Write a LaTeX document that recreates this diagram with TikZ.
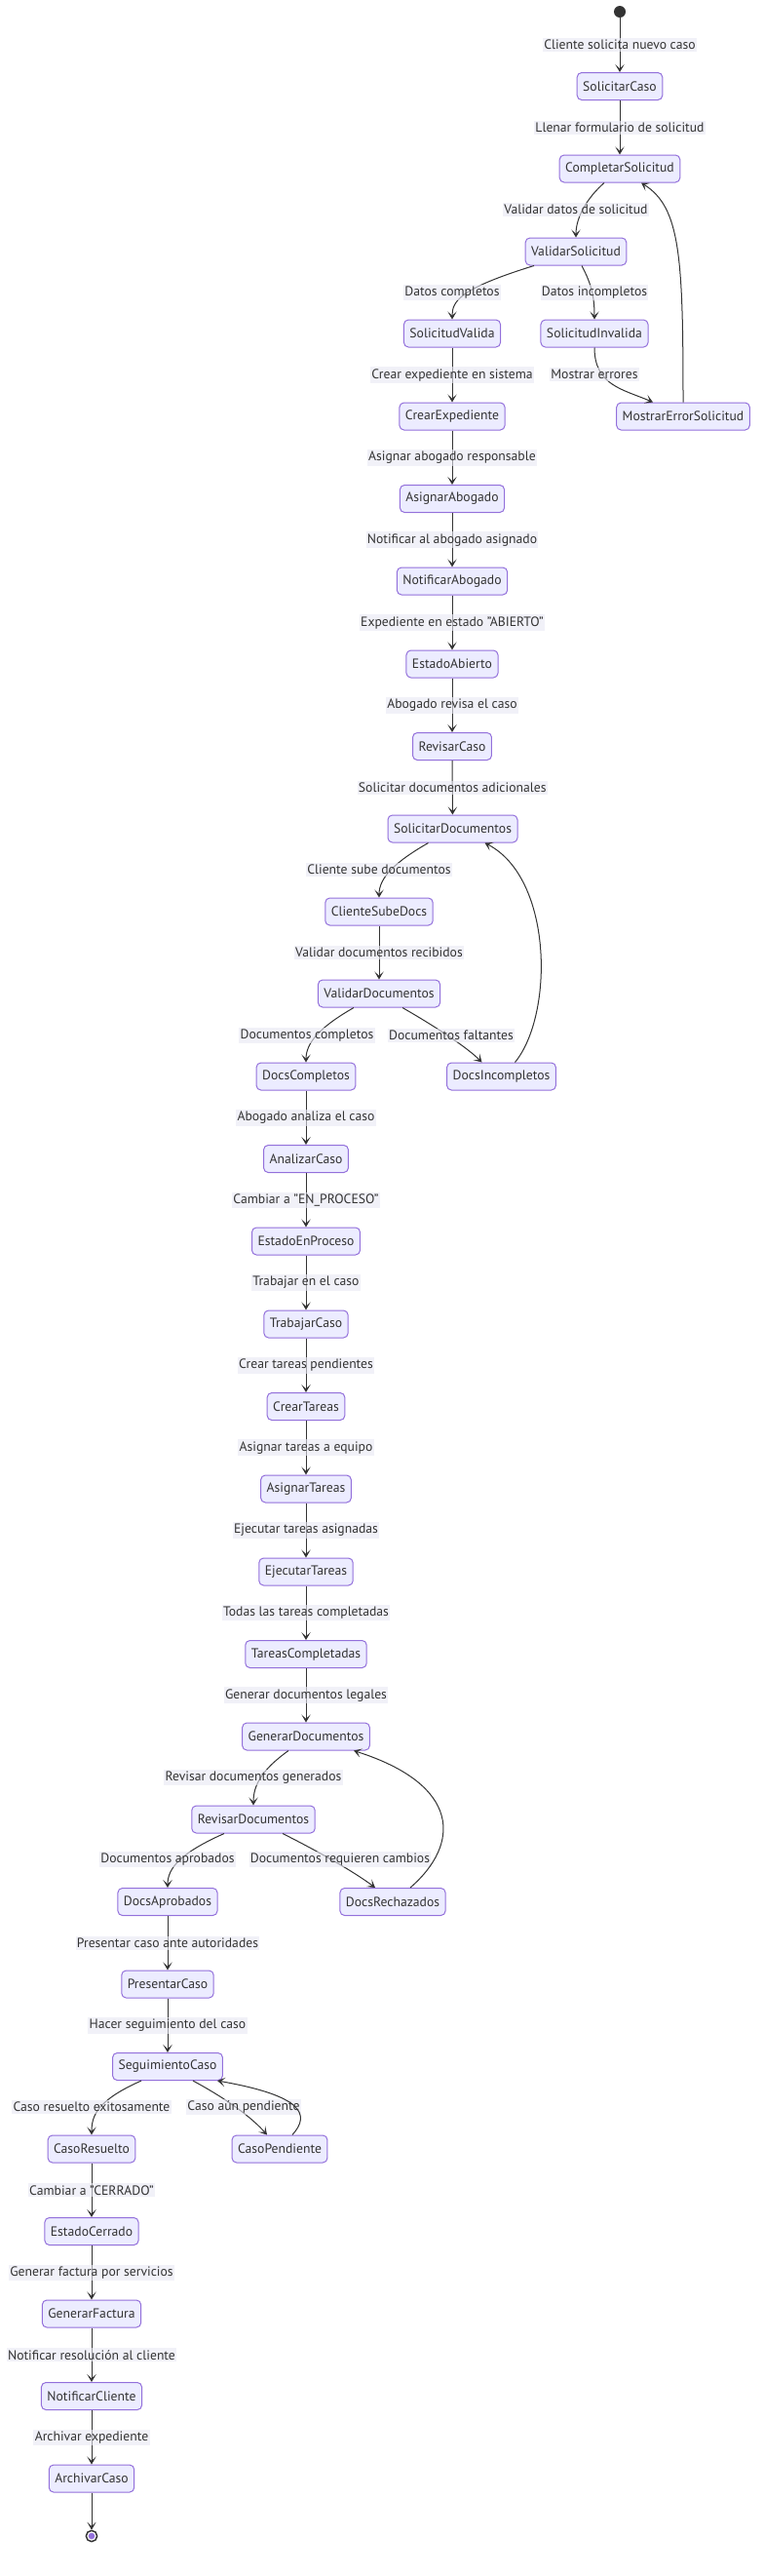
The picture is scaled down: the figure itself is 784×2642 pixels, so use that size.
\documentclass[tikz,border=0pt]{standalone}
\usepackage{fontspec}
\setmainfont{PT Sans}
\usetikzlibrary{arrows.meta,calc}

\definecolor{statefill}{HTML}{ECECFF}
\definecolor{stateborder}{HTML}{9370DB}
\definecolor{edgecol}{HTML}{333333}
\definecolor{txt}{HTML}{333333}
\definecolor{lblbg}{HTML}{E8E8F4}

\newcommand{\diagfont}{\fontsize{10.25}{12}\selectfont}

\tikzset{
  estado/.style={draw=stateborder, fill=statefill, rounded corners=3.5pt,
    line width=0.75pt, minimum height=21pt, inner xsep=4.5pt, inner ysep=0pt,
    text=txt, font=\diagfont},
  lbl/.style={fill=lblbg, fill opacity=0.6, text opacity=1, text=txt,
    inner xsep=1pt, inner ysep=1.5pt, font=\diagfont},
  tr/.style={draw=edgecol, line width=0.75pt,
    -{Stealth[length=6pt,width=7pt,inset=3.2pt]}},
}

\begin{document}
\begin{tikzpicture}[x=0.75pt,y=-0.75pt]
  \fill[white] (0,0) rectangle (784,2642);
  \useasboundingbox (0,0) rectangle (784,2642);

  \node[circle,fill=edgecol,minimum size=9pt,inner sep=0pt] (inicio) at (636,12) {};
  \node[estado] (solcaso) at (636,88.5) {SolicitarCaso};
  \node[estado] (compsol) at (636,173) {CompletarSolicitud};
  \node[estado] (valsol) at (591,258) {ValidarSolicitud};
  \node[estado] (solval) at (464,342) {SolicitudValida};
  \node[estado] (solinv) at (610,342) {SolicitudInvalida};
  \node[estado] (crearexp) at (464,427) {CrearExpediente};
  \node[estado] (mosterr) at (701,427) {MostrarErrorSolicitud};
  \node[estado] (asigabo) at (464,511.5) {AsignarAbogado};
  \node[estado] (notabo) at (464,596) {NotificarAbogado};
  \node[estado] (estabi) at (464,681) {EstadoAbierto};
  \node[estado] (revcaso) at (464,765.5) {RevisarCaso};
  \node[estado] (soldocs) at (464.5,850) {SolicitarDocumentos};
  \node[estado] (clisube) at (389,935) {ClienteSubeDocs};
  \node[estado] (valdocs) at (389,1019) {ValidarDocumentos};
  \node[estado] (docsok) at (314,1104) {DocsCompletos};
  \node[estado] (docsinc) at (514.5,1104) {DocsIncompletos};
  \node[estado] (analcaso) at (314,1188.5) {AnalizarCaso};
  \node[estado] (estproc) at (314,1273) {EstadoEnProceso};
  \node[estado] (trabcaso) at (314,1358) {TrabajarCaso};
  \node[estado] (creartar) at (314,1442.5) {CrearTareas};
  \node[estado] (asigtar) at (314,1527) {AsignarTareas};
  \node[estado] (ejectar) at (314,1612) {EjecutarTareas};
  \node[estado] (tarcomp) at (314,1696.5) {TareasCompletadas};
  \node[estado] (gendocs) at (314,1781) {GenerarDocumentos};
  \node[estado] (revdocs) at (260,1866) {RevisarDocumentos};
  \node[estado] (docsapr) at (172,1950.5) {DocsAprobados};
  \node[estado] (docsrech) at (403,1950.5) {DocsRechazados};
  \node[estado] (prescaso) at (172,2035) {PresentarCaso};
  \node[estado] (segcaso) at (172,2119.5) {SeguimientoCaso};
  \node[estado] (casores) at (94,2204) {CasoResuelto};
  \node[estado] (casopend) at (287,2204) {CasoPendiente};
  \node[estado] (estcerr) at (94,2288.5) {EstadoCerrado};
  \node[estado] (genfact) at (94,2373) {GenerarFactura};
  \node[estado] (notcli) at (94,2457.5) {NotificarCliente};
  \node[estado] (archcaso) at (94,2542) {ArchivarCaso};
  \node[circle,draw=edgecol,line width=1.1pt,fill=white,minimum size=8.5pt,inner sep=0pt] (fin) at (94,2601) {};
  \fill[stateborder] (fin.center) circle (2.5pt);

  \draw[tr] (inicio) edge node[lbl] {Cliente solicita nuevo caso} (solcaso);
  \draw[tr] (solcaso) edge node[lbl] {Llenar formulario de solicitud} (compsol);
  \draw[tr] ($(compsol.south)+(-16,0)$) .. controls +(-16,14) and +(0,-22) .. (valsol.north)
    node[lbl] at (591,215) {Validar datos de solicitud};
  \draw[tr] ($(valsol.south)+(-43,0)$) .. controls +(-78,24) and +(0,-18) .. (solval.north)
    node[lbl] at (464,300) {Datos completos};
  \draw[tr] ($(valsol.south)+(6,0)$) .. controls +(10,19) and +(0,-23) .. (solinv.north)
    node[lbl] at (610,300) {Datos incompletos};
  \draw[tr] (solval) edge node[lbl] {Crear expediente en sistema} (crearexp);
  \draw[tr] (solinv.south) .. controls +(0,39) and +(-30,-13) .. ($(mosterr.north)+(-31,0)$)
    node[lbl] at (610,384) {Mostrar errores};
  \draw[tr] (mosterr.north) .. controls +(0,-150) and +(40,25) .. ($(compsol.south)+(22,0)$);
  \draw[tr] (crearexp) edge node[lbl] {Asignar abogado responsable} (asigabo);
  \draw[tr] (asigabo) edge node[lbl] {Notificar al abogado asignado} (notabo);
  \draw[tr] (notabo) edge node[lbl] {Expediente en estado "ABIERTO"} (estabi);
  \draw[tr] (estabi) edge node[lbl] {Abogado revisa el caso} (revcaso);
  \draw[tr] (revcaso) edge node[lbl] {Solicitar documentos adicionales} (soldocs);
  \draw[tr] ($(soldocs.south)+(-25,0)$) .. controls +(-35,20) and +(0,-20) .. (clisube.north)
    node[lbl] at (389,892) {Cliente sube documentos};
  \draw[tr] (clisube) edge node[lbl] {Validar documentos recibidos} (valdocs);
  \draw[tr] ($(valdocs.south)+(-26,0)$) .. controls +(-35,20) and +(0,-20) .. (docsok.north)
    node[lbl] at (315,1062) {Documentos completos};
  \draw[tr] ($(valdocs.south)+(24,0)$) .. controls +(35,20) and +(-15,-15) .. ($(docsinc.north)+(-20,0)$)
    node[lbl] at (463,1062) {Documentos faltantes};
  \draw[tr] ($(docsinc.north)+(14,0)$) .. controls +(40,-49) and +(70,36) .. ($(soldocs.south)+(33,0)$);
  \draw[tr] (docsok) edge node[lbl] {Abogado analiza el caso} (analcaso);
  \draw[tr] (analcaso) edge node[lbl] {Cambiar a "EN\_PROCESO"} (estproc);
  \draw[tr] (estproc) edge node[lbl] {Trabajar en el caso} (trabcaso);
  \draw[tr] (trabcaso) edge node[lbl] {Crear tareas pendientes} (creartar);
  \draw[tr] (creartar) edge node[lbl] {Asignar tareas a equipo} (asigtar);
  \draw[tr] (asigtar) edge node[lbl] {Ejecutar tareas asignadas} (ejectar);
  \draw[tr] (ejectar) edge node[lbl] {Todas las tareas completadas} (tarcomp);
  \draw[tr] (tarcomp) edge node[lbl] {Generar documentos legales} (gendocs);
  \draw[tr] ($(gendocs.south)+(-18,0)$) .. controls +(-28,20) and +(0,-20) .. (revdocs.north)
    node[lbl] at (260,1823) {Revisar documentos generados};
  \draw[tr] ($(revdocs.south)+(-30,0)$) .. controls +(-45,20) and +(0,-20) .. (docsapr.north)
    node[lbl] at (172,1907) {Documentos aprobados};
  \draw[tr] ($(revdocs.south)+(30,0)$) .. controls +(40,20) and +(-20,-15) .. ($(docsrech.north)+(-18,0)$)
    node[lbl] at (349,1907) {Documentos requieren cambios};
  \draw[tr] ($(docsrech.north)+(18,0)$) .. controls +(52,-45) and +(110,35) .. ($(gendocs.south)+(49,0)$);
  \draw[tr] (docsapr) edge node[lbl] {Presentar caso ante autoridades} (prescaso);
  \draw[tr] (prescaso) edge node[lbl] {Hacer seguimiento del caso} (segcaso);
  \draw[tr] ($(segcaso.south)+(-27,0)$) .. controls +(-45,20) and +(0,-20) .. (casores.north)
    node[lbl] at (94,2161) {Caso resuelto exitosamente};
  \draw[tr] ($(segcaso.south)+(26,0)$) .. controls +(37,20) and +(-15,-17) .. ($(casopend.north)+(-13,0)$)
    node[lbl] at (250,2161) {Caso aún pendiente};
  \draw[tr] ($(casopend.north)+(13,0)$) .. controls +(20,-22) and +(85,15) .. ($(segcaso.south)+(51,0)$);
  \draw[tr] (casores) edge node[lbl] {Cambiar a "CERRADO"} (estcerr);
  \draw[tr] (estcerr) edge node[lbl] {Generar factura por servicios} (genfact);
  \draw[tr] (genfact) edge node[lbl] {Notificar resolución al cliente} (notcli);
  \draw[tr] (notcli) edge node[lbl] {Archivar expediente} (archcaso);
  \draw[tr] (archcaso) edge (fin);

\end{tikzpicture}
\end{document}
